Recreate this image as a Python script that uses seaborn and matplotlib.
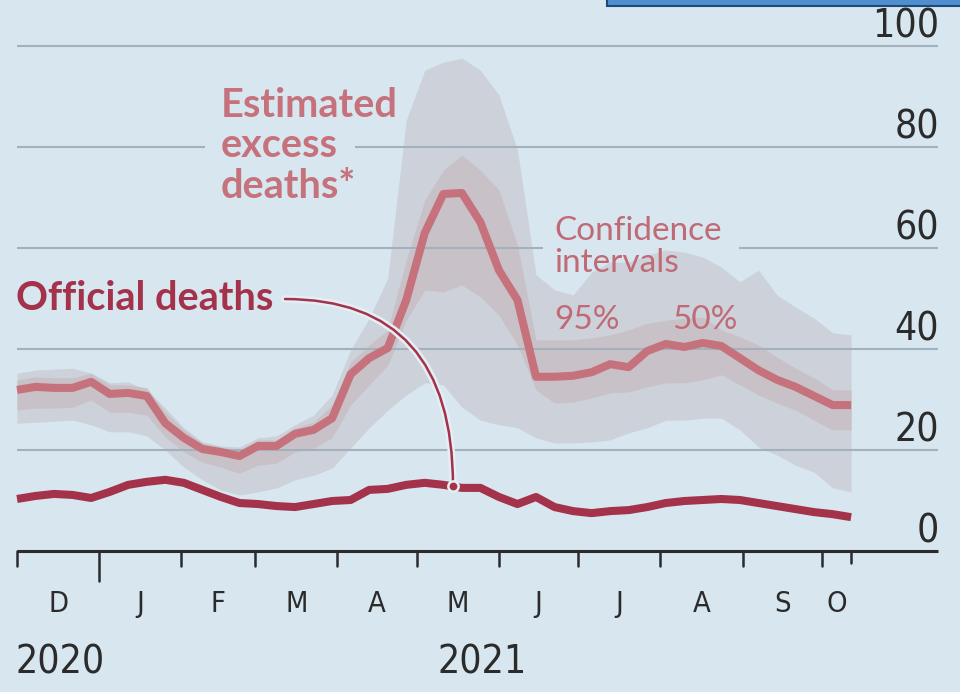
import numpy as np
import pandas as pd
import seaborn as sns
import matplotlib.pyplot as plt
import matplotlib.patheffects as pe
from matplotlib.patches import Rectangle
from matplotlib import font_manager

# --- data (weekly) ---
weeks = pd.date_range('2020-12-01', periods=46, freq='7D')

excess = [31.9, 32.5, 32.3, 32.3, 33.5, 31.1, 31.3, 30.7, 25.3, 22.4,
          20.2, 19.6, 18.8, 20.8, 20.8, 23.2, 24.0, 26.3, 35.0, 38.2,
          40.2, 49.7, 63.0, 70.7, 70.9, 65.1, 55.6, 49.7, 34.5, 34.5,
          34.7, 35.4, 37.0, 36.4, 39.6, 41.0, 40.4, 41.2, 40.6, 38.2,
          35.8, 33.9, 32.5, 30.7, 28.9, 28.9]

hi50 = [33.9, 34.5, 34.3, 34.3, 35.2, 32.9, 32.9, 32.3, 27.5, 24.0,
        21.4, 20.6, 20.0, 22.0, 22.0, 24.4, 25.5, 28.9, 37.4, 40.8,
        43.8, 57.6, 69.5, 75.4, 78.4, 75.4, 71.5, 60.6, 41.8, 41.8,
        41.8, 42.2, 42.8, 43.8, 45.1, 45.7, 46.1, 46.3, 43.8, 42.4,
        40.8, 38.4, 36.2, 34.3, 31.9, 31.9]

lo50 = [27.9, 28.3, 28.3, 28.5, 29.9, 27.5, 27.5, 26.9, 22.6, 19.6,
        17.6, 16.6, 15.4, 17.0, 17.4, 19.6, 20.4, 22.4, 28.9, 32.9,
        36.8, 45.7, 51.7, 51.3, 52.7, 50.3, 46.7, 40.8, 31.9, 29.3,
        29.5, 30.3, 31.3, 31.5, 32.5, 33.3, 33.3, 33.9, 34.9, 32.9,
        30.9, 29.3, 27.9, 25.9, 24.0, 24.0]

hi95 = [35.2, 35.8, 36.0, 36.2, 35.2, 33.3, 33.5, 31.9, 28.3, 24.4,
        21.6, 20.8, 20.6, 22.4, 22.8, 25.0, 26.9, 30.9, 39.8, 46.1,
        54.0, 85.3, 95.2, 96.8, 97.6, 95.2, 90.3, 79.4, 54.7, 51.7,
        50.7, 55.2, 57.2, 57.2, 58.6, 59.6, 59.2, 58.2, 56.2, 53.3,
        55.6, 50.7, 48.3, 46.1, 43.2, 42.8]

lo95 = [25.3, 25.5, 25.7, 25.9, 25.0, 23.6, 23.6, 22.8, 20.0, 16.6,
        14.1, 12.1, 11.1, 11.7, 12.5, 14.1, 15.0, 16.4, 20.4, 24.4,
        27.9, 30.9, 33.3, 32.9, 28.5, 25.9, 25.0, 24.4, 22.4, 21.4,
        21.4, 21.6, 22.0, 23.4, 24.4, 25.9, 25.9, 26.3, 26.3, 24.0,
        20.6, 19.0, 17.0, 15.6, 12.5, 11.7]

official = [10.3, 10.9, 11.3, 11.1, 10.5, 11.7, 13.1, 13.7, 14.1, 13.5,
            12.1, 10.7, 9.5, 9.3, 8.9, 8.7, 9.3, 9.9, 10.1, 12.1,
            12.3, 13.1, 13.5, 13.1, 12.5, 12.5, 10.7, 9.3, 10.7, 8.7,
            7.9, 7.5, 7.9, 8.1, 8.7, 9.5, 9.9, 10.1, 10.3, 10.1,
            9.5, 8.9, 8.3, 7.7, 7.3, 6.7]

month_starts = pd.to_datetime(['2020-12-01', '2021-01-01', '2021-02-01', '2021-03-01',
                               '2021-04-01', '2021-05-01', '2021-06-01', '2021-07-01',
                               '2021-08-01', '2021-09-01', '2021-10-01'])
month_labels = ['D', 'J', 'F', 'M', 'A', 'M', 'J', 'J', 'A', 'S', 'O']
y_ticks = [0, 20, 40, 60, 80, 100]
year_labels = ['2020', '2021']

# --- colours ---
BG = '#d7e6ef'
C_EXCESS = '#c6727c'
C_OFFICIAL = '#a3324a'
C_BAND95 = '#ccd1da'
C_BAND50 = '#c9c1c8'
C_GRID = '#a2b1bb'
C_AXIS = '#2b2b2b'

# pixel layout helpers (chart is 960x692, day 0 = 1 Dec 2020 at x=17px)
ORIGIN = pd.Timestamp('2020-12-01')
PX_PER_DAY = 2.648
PX_PER_UNIT = 5.05
Y0_PX = 551


def px2date(px):
    return ORIGIN + pd.Timedelta(days=(px - 17) / PX_PER_DAY)


def py2val(py):
    return (Y0_PX - py) / PX_PER_UNIT


sns.set_style('white')
plt.rcParams['font.family'] = ['Lato', 'DejaVu Sans']

# narrow font for the axis labels, whatever is installed
fonts = font_manager.fontManager.ttflist
names = {f.name for f in fonts}
if 'Liberation Sans Narrow' in names:
    NARROW = dict(family='Liberation Sans Narrow')
    nscale = 1.0
elif any(f.name == 'DejaVu Sans' and f.stretch in ('condensed', 'semi-condensed', 600, 500) for f in fonts):
    NARROW = dict(family='DejaVu Sans', fontstretch='condensed')
    nscale = 0.95
else:
    NARROW = dict(family='Roboto', fontweight='light')
    nscale = 0.88

fig = plt.figure(figsize=(9.6, 6.92), dpi=100)
fig.patch.set_facecolor(BG)
ax = fig.add_axes([0, 0, 1, 1])
ax.set_facecolor(BG)
ax.set_xlim(px2date(0), px2date(960))
ax.set_ylim(py2val(692), py2val(0))

# confidence bands
ax.fill_between(weeks, lo95, hi95, color=C_BAND95, lw=0, zorder=1)
ax.fill_between(weeks, lo50, hi50, color=C_BAND50, lw=0, zorder=1.5)

# gridlines, with gaps where the labels sit
grid_segments = {
    100: [(17, 938)],
    80: [(17, 205), (355, 938)],
    60: [(17, 543), (739, 938)],
    40: [(17, 938)],
    20: [(17, 938)],
}
for val, segs in grid_segments.items():
    for a, b in segs:
        ax.plot([px2date(a), px2date(b)], [val, val], color=C_GRID, lw=1.5, zorder=2,
                solid_capstyle='butt')

# the lines
df = pd.DataFrame({
    'date': list(weeks) * 2,
    'deaths': excess + official,
    'series': ['Excess'] * len(weeks) + ['Official'] * len(weeks),
})
sns.lineplot(data=df, x='date', y='deaths', hue='series',
             palette={'Excess': C_EXCESS, 'Official': C_OFFICIAL},
             linewidth=5.8, legend=False, ax=ax, zorder=3)
for ln in ax.lines[-2:]:
    ln.set_solid_joinstyle('round')
    ln.set_solid_capstyle('butt')

# baseline
ax.plot([px2date(17), px2date(938)], [0, 0], color=C_AXIS, lw=2.2, zorder=4,
        solid_capstyle='butt')

for s in ax.spines.values():
    s.set_visible(False)
ax.set_xticks([])
ax.set_yticks([])
ax.set_xlabel('')
ax.set_ylabel('')

# month ticks
tick_len = 3.0
for d in month_starts:
    ln = tick_len * 2 if d.month == 1 else tick_len
    ax.plot([d, d], [0, -ln], color=C_AXIS, lw=1.8, zorder=4)
data_end = weeks[-1]
ax.plot([data_end, data_end], [0, -2.4], color=C_AXIS, lw=1.8, zorder=4)

edges = list(month_starts) + [data_end]
for i, lab in enumerate(month_labels):
    mid = edges[i] + (edges[i + 1] - edges[i]) / 2
    ax.text(mid, py2val(604), lab, ha='center', va='center', fontsize=22 * nscale,
            color=C_AXIS, **NARROW)

ax.text(px2date(16), py2val(663), year_labels[0], ha='left', va='center',
        fontsize=29.5 * nscale, color=C_AXIS, **NARROW)
ax.text(px2date(437), py2val(663), year_labels[1], ha='left', va='center',
        fontsize=29.5 * nscale, color=C_AXIS, **NARROW)

# y tick labels on the right, above the gridlines
for v in y_ticks:
    ax.text(px2date(939), v + 1.7, str(v), ha='right', va='baseline',
            fontsize=29.5 * nscale, color=C_AXIS, **NARROW)

# annotations
ax.text(px2date(221), py2val(146), 'Estimated\nexcess\ndeaths*', ha='left', va='center',
        fontsize=28.5, fontweight='bold', color=C_EXCESS, linespacing=1.12)
ax.text(px2date(16), py2val(299), 'Official deaths', ha='left', va='center',
        fontsize=28.5, fontweight='bold', color=C_OFFICIAL)
ax.text(px2date(554), py2val(247), 'Confidence\nintervals', ha='left', va='center',
        fontsize=24, color='#c06a76', linespacing=1.08)
ax.text(px2date(554), py2val(320), '95%', ha='left', va='center',
        fontsize=24, color='#c06a76')
ax.text(px2date(672), py2val(320), '50%', ha='left', va='center',
        fontsize=24, color='#c06a76')

# connector from label to the official line
dot_date = px2date(453)
mdays = (dot_date - weeks[0]).days
dot_val = np.interp(mdays, [(w - weeks[0]).days for w in weeks], official)
ann = ax.annotate('', xy=(dot_date, dot_val), xytext=(px2date(285), py2val(299)),
                  arrowprops=dict(arrowstyle='-', color=C_OFFICIAL, lw=1.8,
                                  shrinkA=0, shrinkB=0,
                                  connectionstyle='angle3,angleA=0,angleB=90'),
                  zorder=5)
ann.arrow_patch.set_path_effects([pe.Stroke(linewidth=5.5, foreground='#e4eef4'), pe.Normal()])
ax.scatter([dot_date], [dot_val], s=55, color=C_OFFICIAL, edgecolor='#e4eef4',
           linewidth=1.8, zorder=6)

# blue box fragment at the top right of the screenshot
fig.patches.append(Rectangle((607 / 960, 686 / 692), 400 / 960, 20 / 692,
                             transform=fig.transFigure, facecolor='#4f8fd0',
                             edgecolor='#1d4a78', lw=1.5, zorder=10))

fig.savefig('out.png', dpi=100, facecolor=BG)
